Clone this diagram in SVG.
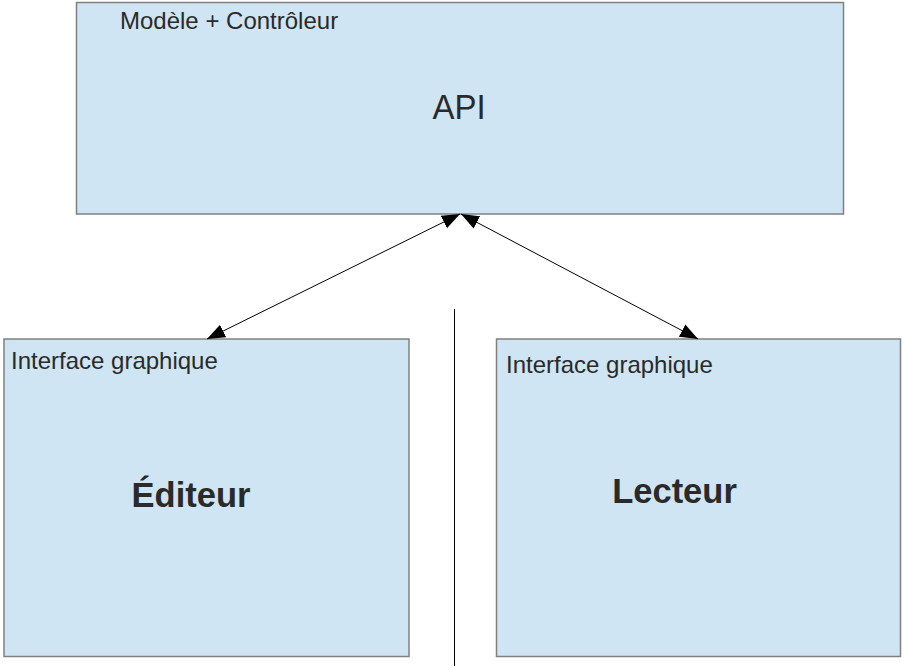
<svg xmlns="http://www.w3.org/2000/svg" width="909" height="666" viewBox="0 0 909 666">
<style>
.box{fill:#cfe5f3;stroke:#808080;stroke-width:1.5}
.lbl{font-family:"Liberation Sans",Arial,sans-serif;font-size:24px;fill:#2a2a2a}
.big{font-family:"Liberation Sans",Arial,sans-serif;font-size:33px;fill:#2a2a2a}
.bold{font-family:"Liberation Sans",Arial,sans-serif;font-size:34.5px;font-weight:bold;fill:#2a2a2a}
.conn{stroke:#000;stroke-width:1;fill:none}
</style>
<defs>
<marker id="ah" markerUnits="userSpaceOnUse" markerWidth="19" markerHeight="15" refX="18" refY="7" orient="auto-start-reverse" viewBox="0 0 19 14">
<path d="M0,0 L18,7 L0,14 Z" fill="#000"/>
</marker>
</defs>
<rect width="909" height="666" fill="#fff"/>
<g id="api">
<rect class="box" x="76.5" y="2.5" width="767" height="211.5"/>
<text class="lbl" x="120" y="29">Modèle + Contrôleur</text>
<text class="big" x="459" y="119" text-anchor="middle" transform="translate(0,-8) scale(1,1.07)">API</text>
</g>
<g id="editeur">
<rect class="box" x="4" y="339" width="405" height="317.5"/>
<text class="lbl" x="11" y="369">Interface graphique</text>
<text class="bold" x="191" y="507" text-anchor="middle">Éditeur</text>
</g>
<g id="lecteur">
<rect class="box" x="496.5" y="339" width="404" height="317.5"/>
<text class="lbl" x="506" y="372.5">Interface graphique</text>
<text class="bold" x="674.5" y="503" text-anchor="middle">Lecteur</text>
</g>
<g id="connectors">
<line class="conn" x1="460" y1="214" x2="207" y2="339" marker-start="url(#ah)" marker-end="url(#ah)"/>
<line class="conn" x1="461" y1="214" x2="698" y2="339" marker-start="url(#ah)" marker-end="url(#ah)"/>
<line class="conn" x1="454.5" y1="309" x2="454.5" y2="666"/>
</g>
</svg>
